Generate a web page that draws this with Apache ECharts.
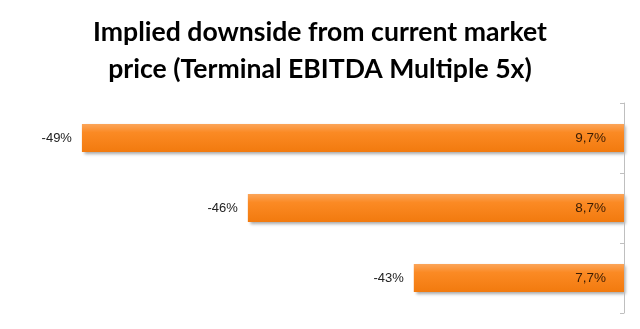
<!DOCTYPE html>
<html><head><meta charset="utf-8">
<script src="https://cdn.jsdelivr.net/npm/echarts@6/dist/echarts.min.js"></script>
<style>html,body{margin:0;padding:0;background:#fff}#c{width:640px;height:329px}</style>
</head><body><div id="c"></div>
<script>
const titleText = 'Implied downside from current market\nprice (Terminal EBITDA Multiple 5x)';
const categories = ['7,7%', '8,7%', '9,7%'];
const downside = [-43, -46, -49];

const chart = echarts.init(document.getElementById('c'), null, {renderer: 'canvas'});
chart.setOption({
  animation: false,
  backgroundColor: '#ffffff',
  title: {
    text: titleText,
    left: 'center',
    top: 9,
    textStyle: {fontFamily: 'Lato', fontWeight: 'bold', fontSize: 26.6, lineHeight: 37, color: '#000'}
  },
  grid: {left: 26.6, right: 16, top: 103, bottom: 16},
  xAxis: {
    type: 'value', min: -50, max: -39.2, show: false
  },
  yAxis: {
    type: 'category', data: categories, position: 'right', z: 5,
    axisLine: {show: true, lineStyle: {color: '#bfbfbf', width: 1}},
    axisTick: {show: true, inside: true, length: 4, lineStyle: {color: '#bfbfbf'}},
    axisLabel: {inside: true, margin: 18, fontFamily: 'Liberation Sans', fontSize: 13.5, color: '#3a1c04'},
    splitLine: {show: false}
  },
  series: [{
    type: 'bar',
    data: downside,
    barWidth: 28,
    clip: true,
    itemStyle: {
      color: new echarts.graphic.LinearGradient(0, 0, 0, 1, [
        {offset: 0, color: '#fba55a'},
        {offset: 0.3, color: '#fb8a24'},
        {offset: 1, color: '#f27a0e'}
      ]),
      shadowColor: 'rgba(0,0,0,0.35)', shadowBlur: 3, shadowOffsetX: 2, shadowOffsetY: 2
    },
    label: {
      show: true, position: 'left', distance: 10,
      formatter: p => p.value + '%',
      fontFamily: 'Liberation Sans', fontSize: 13, color: '#222'
    }
  }]
});
</script></body></html>
